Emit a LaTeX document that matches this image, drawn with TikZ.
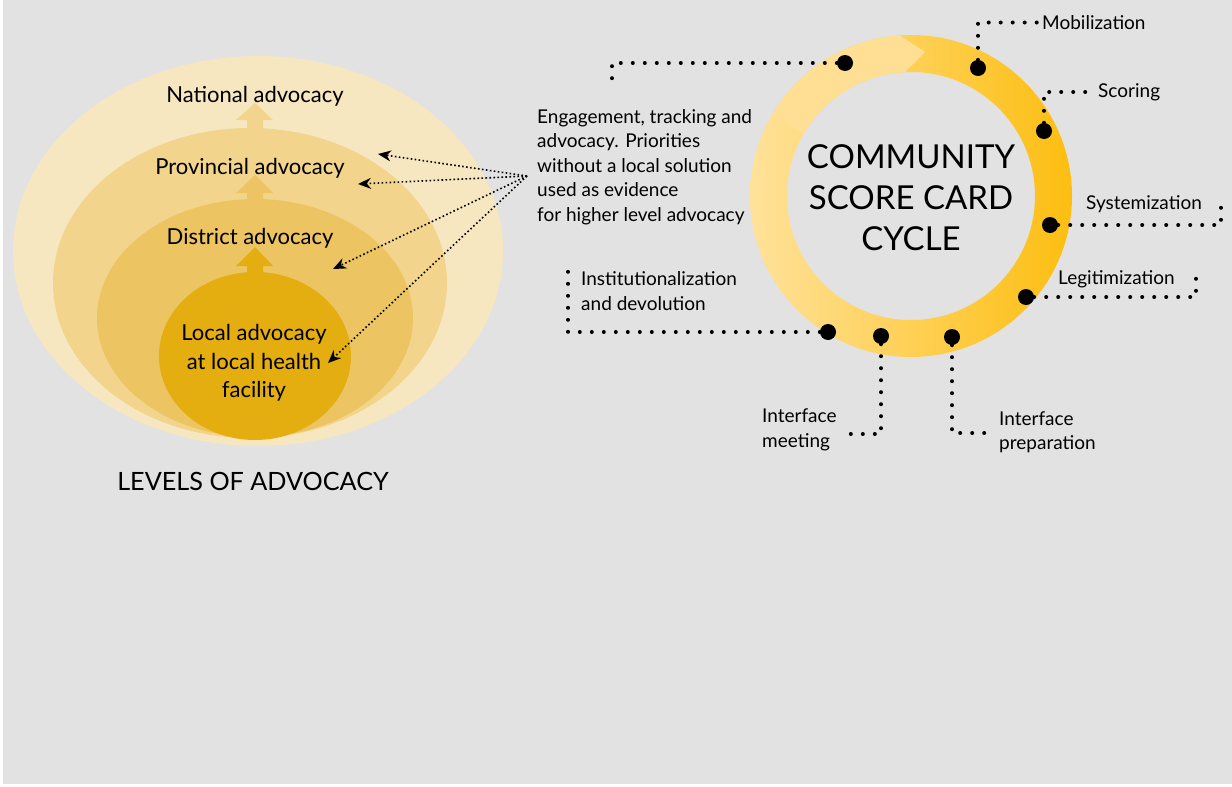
\documentclass[tikz,border=0pt]{standalone}
\usepackage{fontspec}
\setmainfont{Lato}
\usetikzlibrary{arrows.meta, calc, positioning}

\definecolor{bggray}{HTML}{E2E2E2}
\definecolor{natcol}{HTML}{F7E7C1}
\definecolor{provcol}{HTML}{F2D48C}
\definecolor{distcol}{HTML}{ECC462}
\definecolor{localcol}{HTML}{E4AE10}
\definecolor{ringlight}{HTML}{FFE29A}
\definecolor{ringtail}{HTML}{FFDF93}
\definecolor{ringmid}{HTML}{FED77C}
\definecolor{ringdark}{HTML}{FDBE10}

\tikzset{
  lvl/.style={font=\fontsize{22}{28.5}\selectfont, align=center, inner sep=0pt},
  lbl/.style={font=\fontsize{19}{24.5}\selectfont, align=left, anchor=west, inner sep=2pt},
  stage/.style={circle, fill=black, minimum size=16pt, inner sep=0pt},
  dotline/.style={line width=4pt, line cap=round, dash pattern=on 0pt off 12pt},
  evid/.style={line width=1.6pt, dash pattern=on 1.6pt off 2.4pt, -{Stealth[length=13pt,width=11pt]}},
}

\begin{document}
\begin{tikzpicture}[x=1pt, y=-1pt]
	\useasboundingbox (0,0) rectangle (1232,787);
	\fill[white] (0,0) rectangle (1232,787);
	\fill[bggray] (3,0) rectangle (1232,784);

	% levels of advocacy, from outside in
	\fill[natcol] (258,251) ellipse (245 and 195);
	\fill[provcol] (236,120) -- (255,103) -- (273,120) -- (263,120) -- (263,133) -- (247,133) -- (247,120) -- cycle;
	\fill[provcol] (250,283) ellipse (197 and 155);
	\fill[distcol] (236,193) -- (255,175) -- (273,193) -- (263,193) -- (263,205) -- (247,205) -- (247,193) -- cycle;
	\fill[distcol] (255,318) ellipse (158 and 119);
	\fill[localcol] (236,266) -- (255,247) -- (273,266) -- (263,266) -- (263,278) -- (247,278) -- (247,266) -- cycle;
	\fill[localcol] (255,356) ellipse (96 and 84);

	\node[lvl] (national) at (255,96) {National advocacy};
	\node[lvl] (provincial) at (250,168) {Provincial advocacy};
	\node[lvl] (district) at (250,238) {District advocacy};
	\node[lvl] (local) at (254,363) {Local advocacy\\at local health\\facility};
	\node[font=\fontsize{25.2}{30}\selectfont, inner sep=0pt] (levels) at (253,481) {LEVELS OF ADVOCACY};

	% evidence passed up to higher levels
	\node[lbl] (lengage) at (535,167) {Engagement, tracking and\\advocacy. Priorities\\without a local solution\\used as evidence\\for higher level advocacy};
	\coordinate (src) at (527,176);
	\coordinate (tnat) at (378,154);
	\coordinate (tprov) at (358,184);
	\coordinate (tdist) at (333,269);
	\coordinate (tlocal) at (328,363);
	\foreach \t in {tnat, tprov, tdist, tlocal}
		\draw[evid] (src) -- (\t);

	% score card cycle ring
	\shade[left color=ringlight, middle color=ringmid, right color=ringdark, even odd rule]
	  (911,196) circle[radius=161] (911,196) circle[radius=124];
	\fill[ringtail, shift={(911,196)}] (-94:161) arc[start angle=-94, end angle=-150, radius=161]
	  -- (-150:124) arc[start angle=-150, end angle=-92.8, radius=124] -- (-84.4:144.7) -- cycle;
	\node[font=\fontsize{33}{41}\selectfont, align=center, inner sep=0pt] (cscc) at (911,198) {COMMUNITY\\SCORE CARD\\CYCLE};

	% stages on the ring
	\node[stage] (dengage) at (845,63) {};
	\node[stage] (dmob) at (978,68) {};
	\node[stage] (dscore) at (1044,131) {};
	\node[stage] (dsys) at (1050,225) {};
	\node[stage] (dlegit) at (1026,297) {};
	\node[stage] (dinst) at (828,332) {};
	\node[stage] (dmeet) at (881,336) {};
	\node[stage] (dprep) at (952,337) {};

	\node[lbl] (lmob) at (1040,22.5) {Mobilization};
	\node[lbl] (lscore) at (1096,92) {Scoring};
	\node[lbl] (lsys) at (1084,204) {Systemization};
	\node[lbl] (llegit) at (1056,279) {Legitimization};
	\node[lbl] (linst) at (579,291) {Institutionalization\\and devolution};
	\node[lbl] (lmeet) at (760,430) {Interface\\meeting};
	\node[lbl] (lprep) at (997,432) {Interface\\preparation};

	\coordinate (eengage) at (612,90);
	\coordinate (esys) at (1221,196);
	\coordinate (elegit) at (1196,269);
	\coordinate (einst) at (568,271);
	\coordinate (emeet) at (849,434);
	\coordinate (eprep) at (985,433);

	% dotted leaders
	\draw[dotline] (dengage) -| (eengage);
	\draw[dotline] (dmob) |- (lmob.west);
	\draw[dotline] (dscore) |- (lscore.west);
	\draw[dotline] (dsys) -| (esys);
	\draw[dotline] (dlegit) -| (elegit);
	\draw[dotline] (dinst) -| (einst);
	\draw[dotline] (dmeet) |- (emeet);
	\draw[dotline] (dprep) |- (eprep);
\end{tikzpicture}
\end{document}
